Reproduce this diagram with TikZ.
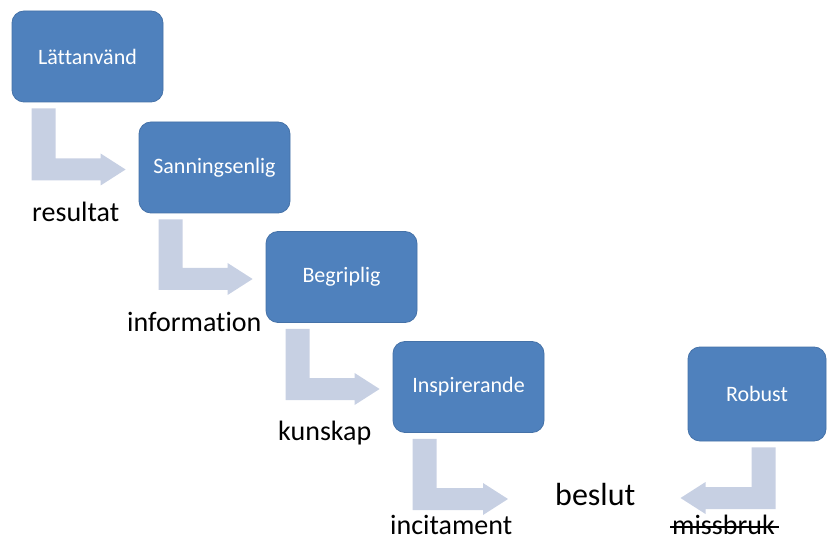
\documentclass[tikz,border=0pt]{standalone}
\usepackage{fontspec}
\setmainfont[Ligatures=NoCommon]{Carlito}
\usetikzlibrary{calc}
\definecolor{boxblue}{RGB}{79,129,189}
\definecolor{boxedge}{RGB}{69,114,168}
\definecolor{bendgray}{RGB}{199,208,227}
% #1 inner top corner of the stem, #2 tip, #3 direction (1 right, -1 left)
\newcommand{\bentarrow}[3]{%
  \fill[bendgray] (#1) |- ($(#2)+({-25*#3},-11)$) -- ++(0,-5) -- (#2) -- ++({-25*#3},16) -- ++(0,-5) -| ($(#1)+({-24*#3},0)$) -- cycle;}

\begin{document}
\begin{tikzpicture}[x=1pt,y=-1pt,
  propbox/.style={rectangle,rounded corners=12pt,fill=boxblue,draw=boxedge,line width=.8pt,text=white,
    minimum width=151pt,minimum height=91pt,inner sep=0pt,font=\fontsize{22}{26}\selectfont},
  ord/.style={anchor=base west,inner sep=0pt,font=\fontsize{28}{34}\selectfont}]
\useasboundingbox (0,0) rectangle (828,540);
\node[propbox] (b1) at (87.5,56.5) {Lättanvänd};
\node[propbox] (b2) at (214.5,167.5) {Sanningsenlig};
\node[propbox] (b3) at (341.5,277) {Begriplig};
\node[propbox] (b4) at (468.5,387) {Inspirerande};
\node[propbox,minimum width=138pt,minimum height=94pt] (b5) at (757,394) {Robust};
\node[ord] (resultat) at (32,222) {resultat};
\node[ord] (information) at (127,332) {information};
\node[ord] (kunskap) at (278,440) {kunskap};
\node[ord] (incitament) at (390,534) {incitament};
\node[ord,font=\fontsize{32}{38}\selectfont] (beslut) at (555,505) {beslut};
\node[ord] (missbruk) at (672,534) {missbruk};
\draw[line width=1.5pt] ([shift={(-2,-7)}]missbruk.base west) -- ([shift={(4,-7)}]missbruk.base east);
\coordinate (s1) at ($(b1.south west)+(44,6)$);
\coordinate (s2) at ($(b2.south west)+(44,6)$);
\coordinate (s3) at ($(b3.south west)+(44,6)$);
\coordinate (s4) at ($(b4.south west)+(44,6)$);
\coordinate (s5) at ($(b5.south west)+(64,6)$);
\coordinate (t1) at ($(b2.west)+(-13,2)$);
\coordinate (t2) at ($(b3.west)+(-13,2)$);
\coordinate (t3) at ($(b4.west)+(-13,2)$);
\coordinate (t4) at ($(beslut.west)+(-47,5)$);
\coordinate (t5) at ($(beslut.east)+(45,4)$);
\bentarrow{s1}{t1}{1}
\bentarrow{s2}{t2}{1}
\bentarrow{s3}{t3}{1}
\bentarrow{s4}{t4}{1}
\bentarrow{s5}{t5}{-1}
\end{tikzpicture}
\end{document}
